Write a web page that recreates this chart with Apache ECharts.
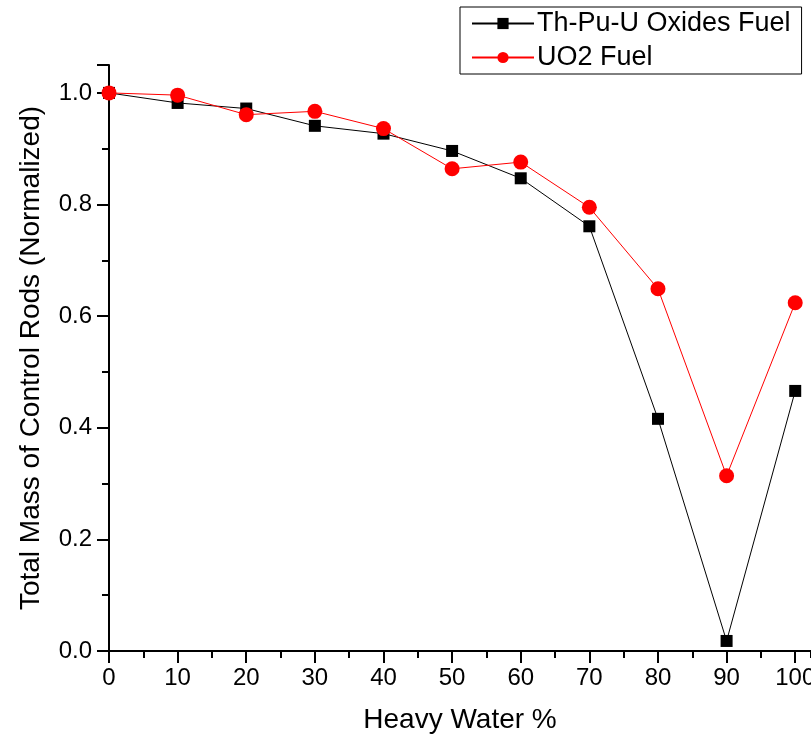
<!DOCTYPE html>
<html>
<head>
<meta charset="utf-8">
<script src="https://cdn.jsdelivr.net/npm/echarts@6/dist/echarts.min.js"></script>
<style>
html,body{margin:0;padding:0;background:#fff;}
#chart{width:811px;height:740px;}
</style>
</head>
<body>
<div id="chart"></div>
<script>
const heavyWater = [0, 10, 20, 30, 40, 50, 60, 70, 80, 90, 100];
const thPuU = [1.000, 0.982, 0.972, 0.941, 0.927, 0.896, 0.847, 0.761, 0.416, 0.018, 0.466];
const uo2 = [1.000, 0.996, 0.961, 0.967, 0.936, 0.864, 0.876, 0.795, 0.649, 0.314, 0.624];
const seriesNames = ['Th-Pu-U Oxides Fuel', 'UO2 Fuel'];
const xTitle = 'Heavy Water %';
const yTitle = 'Total Mass of Control Rods (Normalized)';

const FONT = '"Liberation Sans", Arial, sans-serif';
const X_MAX = 102.3; // visible part of the axis (reference is cropped on the right)
const chart = echarts.init(document.getElementById('chart'), null, {renderer: 'canvas'});
const pairs = (ys) => heavyWater.map((x, i) => [x, ys[i]]);

chart.setOption({
  animation: false,
  backgroundColor: '#fff',
  textStyle: {fontFamily: FONT},
  grid: {left: 109, right: 0, top: 65, bottom: 89, containLabel: false, outerBoundsMode: 'none'},
  legend: {
    orient: 'vertical',
    left: 460,
    top: 7,
    padding: [3, 11, 3, 11],
    itemGap: 7,
    itemWidth: 62,
    itemHeight: 14,
    borderColor: '#000',
    borderWidth: 1,
    backgroundColor: '#fff',
    textStyle: {fontFamily: FONT, fontSize: 27, color: '#000', padding: [0, 0, 0, -2]},
    data: seriesNames
  },
  xAxis: [
    {
      type: 'value',
      min: 0,
      max: X_MAX,
      interval: 10,
      name: xTitle,
      nameLocation: 'middle',
      nameGap: 55,
      nameTextStyle: {fontFamily: FONT, fontSize: 28, color: '#000'},
      axisLine: {show: true, onZero: false, lineStyle: {color: '#000', width: 2}},
      axisTick: {show: true, inside: false, length: 12, lineStyle: {color: '#000', width: 2}},
      minorTick: {show: false},
      axisLabel: {
        fontFamily: FONT, fontSize: 24, color: '#000', margin: 15,
        showMaxLabel: false, hideOverlap: false,
        formatter: (v) => (v <= 100 ? String(v) : '')
      },
      splitLine: {show: false},
      z: 3
    },
    {
      type: 'value',
      position: 'bottom',
      min: 0,
      max: X_MAX,
      interval: 5,
      axisLine: {show: false, onZero: false},
      axisTick: {show: true, inside: false, length: 7, lineStyle: {color: '#000', width: 2}},
      axisLabel: {show: false},
      splitLine: {show: false},
      z: 2
    }
  ],
  yAxis: {
    type: 'value',
    min: 0,
    max: 1.05,
    interval: 0.2,
    name: yTitle,
    nameLocation: 'middle',
    nameGap: 64,
    nameRotate: 90,
    nameTextStyle: {fontFamily: FONT, fontSize: 28, color: '#000'},
    axisLine: {show: true, onZero: false, lineStyle: {color: '#000', width: 2}},
    axisTick: {show: true, inside: false, length: 12, lineStyle: {color: '#000', width: 2}},
    minorTick: {show: true, splitNumber: 2, length: 7, lineStyle: {color: '#000', width: 2}},
    axisLabel: {
      fontFamily: FONT, fontSize: 24, color: '#000', margin: 17,
      showMaxLabel: false,
      formatter: (v) => (v <= 1.0001 ? v.toFixed(1) : '')
    },
    splitLine: {show: false}
  },
  series: [
    {
      name: seriesNames[0],
      type: 'line',
      xAxisIndex: 0,
      data: pairs(thPuU),
      symbol: 'rect',
      symbolSize: 12,
      itemStyle: {color: '#000'},
      lineStyle: {color: '#000', width: 1},
      z: 2
    },
    {
      name: seriesNames[1],
      type: 'line',
      xAxisIndex: 0,
      data: pairs(uo2),
      symbol: 'circle',
      symbolSize: 15,
      itemStyle: {color: '#ff0000'},
      lineStyle: {color: '#ff0000', width: 1},
      z: 3
    }
  ]
});
</script>
</body>
</html>
